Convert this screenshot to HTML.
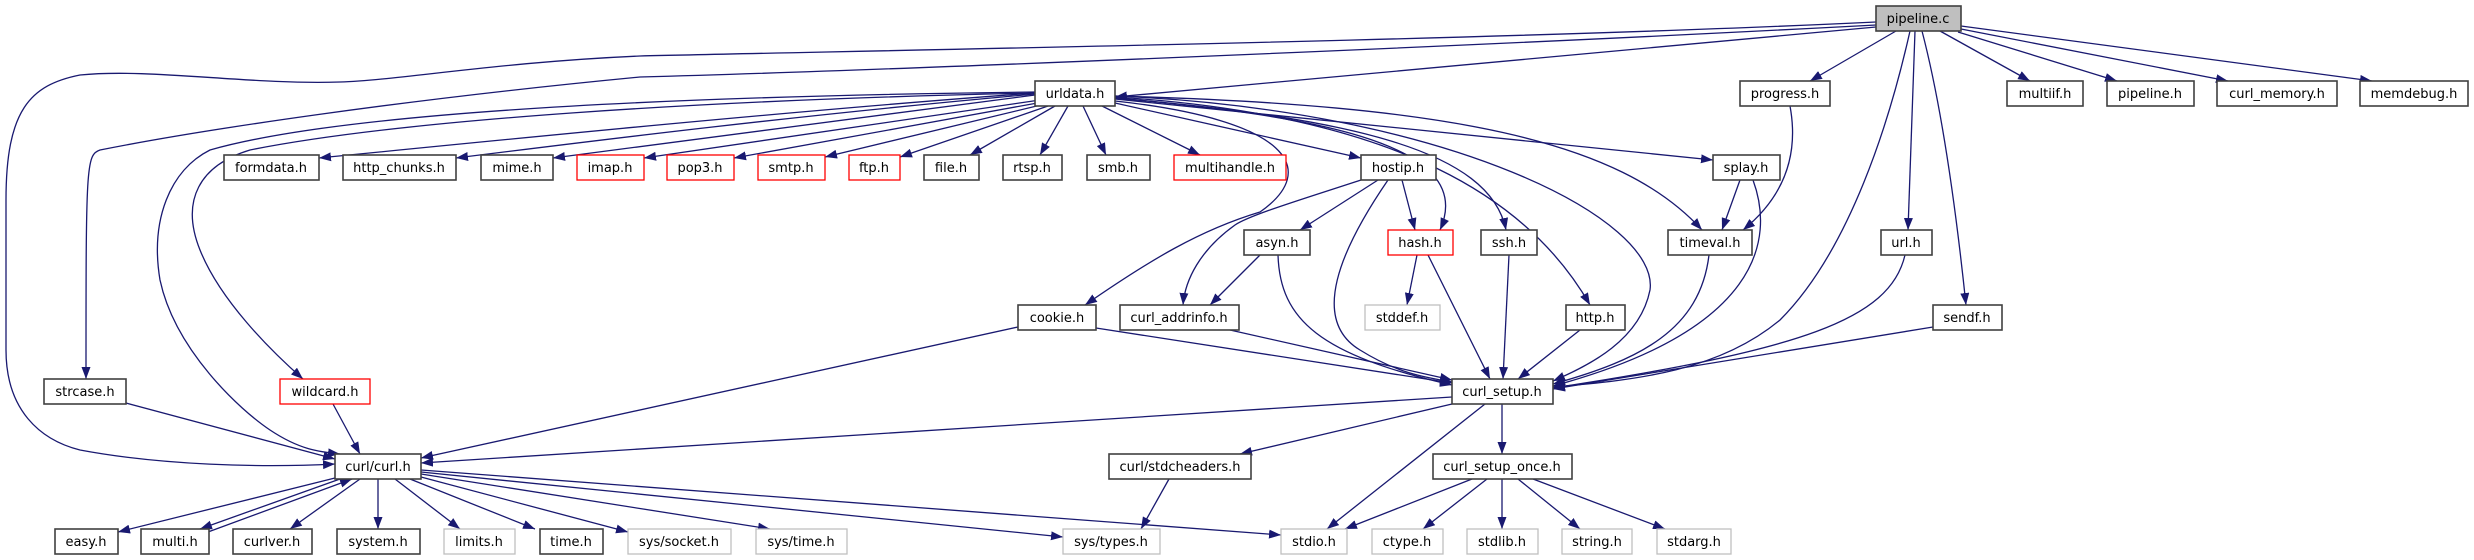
<!DOCTYPE html>
<html><head><meta charset="utf-8"><style>
html,body{margin:0;padding:0;background:#fff;}
svg{display:block}
text{font-family:"DejaVu Sans","Liberation Sans",sans-serif;font-size:13px;fill:#000;text-anchor:middle}
.e{fill:none;stroke:#191970;stroke-width:1.3;marker-end:url(#a)}
.b{fill:#fff;stroke:#404040;stroke-width:1.6}
.r{fill:#fff;stroke:#ff0000;stroke-width:1.3}
.g{fill:#fff;stroke:#bfbfbf;stroke-width:1.3}
</style></head><body>
<svg width="2474" height="560" viewBox="0 0 2474 560" xmlns="http://www.w3.org/2000/svg">
<defs><marker id="a" markerUnits="userSpaceOnUse" markerWidth="12" markerHeight="9" refX="12" refY="4.5" orient="auto"><path d="M0,0 L12,4.5 L0,9 z" fill="#191970"/></marker></defs>
<g>
<path class="e" d="M1876,22 C1500,40 900,50 640,56 C500,62 400,80 340,82 C250,85 150,68 80,75 C30,85 6,110 6,200 L6,350 C6,410 40,440 80,450 C160,465 260,468 335,464"/>
<path class="e" d="M1876,25 C1500,45 900,70 640,77 C400,100 200,130 100,150 C86,155 86,165 86,379"/>
<path class="e" d="M1876,27 L1115,97"/>
<path class="e" d="M1896,31 L1810,81"/>
<path class="e" d="M1940,31 L2030,81"/>
<path class="e" d="M1958,32 L2117,81"/>
<path class="e" d="M1961,29 L2228,81"/>
<path class="e" d="M1961,26 L2372,81"/>
<path class="e" d="M1915,31 L1908,230"/>
<path class="e" d="M1922,31 C1940,100 1955,200 1966,305"/>
<path class="e" d="M1910,31 C1890,120 1850,250 1780,320 C1720,370 1640,380 1553,387"/>
<path class="e" d="M1035,93 C800,110 500,140 319,158"/>
<path class="e" d="M1035,94 C800,115 600,140 456,158"/>
<path class="e" d="M1035,95 L553,158"/>
<path class="e" d="M1040,100 L644,158"/>
<path class="e" d="M1043,102 L734,158"/>
<path class="e" d="M1045,104 L825,157"/>
<path class="e" d="M1048,106 L900,157"/>
<path class="e" d="M1055,106 L970,155"/>
<path class="e" d="M1068,106 L1040,155"/>
<path class="e" d="M1083,106 L1106,155"/>
<path class="e" d="M1102,106 L1200,155"/>
<path class="e" d="M1115,103 L1361,158"/>
<path class="e" d="M1115,98 C1300,115 1480,140 1440,230"/>
<path class="e" d="M1115,98 C1350,118 1490,150 1506,230"/>
<path class="e" d="M1115,97 C1400,115 1530,200 1590,305"/>
<path class="e" d="M1115,96 C1450,110 1660,220 1650,290 C1640,340 1590,365 1553,381"/>
<path class="e" d="M1115,96 C1450,105 1620,140 1702,230"/>
<path class="e" d="M1115,99 L1713,160"/>
<path class="e" d="M1115,101 C1290,120 1320,170 1260,212 C1200,230 1150,260 1085,305"/>
<path class="e" d="M1361,180 C1300,200 1250,215 1235,225 C1200,250 1185,280 1183,305"/>
<path class="e" d="M1035,93 C700,100 400,120 250,150 C200,165 180,200 200,250 C220,300 270,350 303,379"/>
<path class="e" d="M1035,92 C700,96 350,110 210,150 C170,170 150,220 160,280 C175,350 240,410 270,430 C300,450 320,452 340,454"/>
<path class="e" d="M1378,180 L1300,230"/>
<path class="e" d="M1402,180 L1415,230"/>
<path class="e" d="M1388,180 C1340,250 1310,320 1360,350 C1400,375 1430,378 1452,382"/>
<path class="e" d="M1260,255 L1210,305"/>
<path class="e" d="M1278,255 C1280,320 1320,355 1452,385"/>
<path class="e" d="M1417,255 L1407,305"/>
<path class="e" d="M1428,255 L1490,379"/>
<path class="e" d="M1509,255 L1503,379"/>
<path class="e" d="M1580,330 L1518,379"/>
<path class="e" d="M1709,255 C1700,330 1640,360 1553,384"/>
<path class="e" d="M1740,180 L1722,230"/>
<path class="e" d="M1753,180 C1775,240 1760,330 1553,386"/>
<path class="e" d="M1790,106 C1800,160 1780,200 1743,230"/>
<path class="e" d="M1905,255 C1890,320 1800,350 1553,388"/>
<path class="e" d="M1933,327 L1553,389"/>
<path class="e" d="M1018,327 L421,458"/>
<path class="e" d="M1096,328 L1452,383"/>
<path class="e" d="M1230,330 L1452,380"/>
<path class="e" d="M126,403 L335,459"/>
<path class="e" d="M333,404 L360,454"/>
<path class="e" d="M1452,397 L421,463"/>
<path class="e" d="M1452,404 L1240,454"/>
<path class="e" d="M1502,404 L1502,454"/>
<path class="e" d="M1485,404 L1327,529"/>
<path class="e" d="M1169,479 L1141,529"/>
<path class="e" d="M1472,479 L1345,529"/>
<path class="e" d="M1487,479 L1423,529"/>
<path class="e" d="M1502,479 L1502,529"/>
<path class="e" d="M1518,479 L1580,529"/>
<path class="e" d="M1533,479 L1665,529"/>
<path class="e" d="M335,478 L118,532"/>
<path class="e" d="M340,479 L200,529"/>
<path class="e" d="M208,532 L352,479"/>
<path class="e" d="M360,479 L290,529"/>
<path class="e" d="M378,479 L378,529"/>
<path class="e" d="M395,479 L460,529"/>
<path class="e" d="M410,479 L535,529"/>
<path class="e" d="M421,477 L628,532"/>
<path class="e" d="M421,474 L770,529"/>
<path class="e" d="M421,472 L1063,537"/>
<path class="e" d="M421,470 L1281,535"/>
</g>
<g>
<rect x="1876" y="6" width="85" height="25" fill="#bfbfbf" stroke="#404040" stroke-width="1.6"/><text x="1918" y="23">pipeline.c</text>
<rect class="b" x="1035" y="81" width="80" height="25"/><text x="1075" y="98">urldata.h</text>
<rect class="b" x="1740" y="81" width="90" height="25"/><text x="1785" y="98">progress.h</text>
<rect class="b" x="2007" y="81" width="76" height="25"/><text x="2045" y="98">multiif.h</text>
<rect class="b" x="2107" y="81" width="87" height="25"/><text x="2150" y="98">pipeline.h</text>
<rect class="b" x="2217" y="81" width="120" height="25"/><text x="2277" y="98">curl_memory.h</text>
<rect class="b" x="2360" y="81" width="108" height="25"/><text x="2414" y="98">memdebug.h</text>
<rect class="b" x="224" y="155" width="95" height="25"/><text x="271" y="172">formdata.h</text>
<rect class="b" x="343" y="155" width="113" height="25"/><text x="399" y="172">http_chunks.h</text>
<rect class="b" x="481" y="155" width="72" height="25"/><text x="517" y="172">mime.h</text>
<rect class="r" x="577" y="155" width="67" height="25"/><text x="610" y="172">imap.h</text>
<rect class="r" x="667" y="155" width="67" height="25"/><text x="700" y="172">pop3.h</text>
<rect class="r" x="758" y="155" width="67" height="25"/><text x="791" y="172">smtp.h</text>
<rect class="r" x="849" y="155" width="51" height="25"/><text x="874" y="172">ftp.h</text>
<rect class="b" x="924" y="155" width="55" height="25"/><text x="951" y="172">file.h</text>
<rect class="b" x="1003" y="155" width="59" height="25"/><text x="1032" y="172">rtsp.h</text>
<rect class="b" x="1087" y="155" width="63" height="25"/><text x="1118" y="172">smb.h</text>
<rect class="r" x="1174" y="155" width="112" height="25"/><text x="1230" y="172">multihandle.h</text>
<rect class="b" x="1361" y="155" width="75" height="25"/><text x="1398" y="172">hostip.h</text>
<rect class="b" x="1713" y="155" width="67" height="25"/><text x="1746" y="172">splay.h</text>
<rect class="b" x="1244" y="230" width="66" height="25"/><text x="1277" y="247">asyn.h</text>
<rect class="r" x="1388" y="230" width="65" height="25"/><text x="1420" y="247">hash.h</text>
<rect class="b" x="1481" y="230" width="56" height="25"/><text x="1509" y="247">ssh.h</text>
<rect class="b" x="1668" y="230" width="84" height="25"/><text x="1710" y="247">timeval.h</text>
<rect class="b" x="1881" y="230" width="51" height="25"/><text x="1906" y="247">url.h</text>
<rect class="b" x="1018" y="305" width="78" height="25"/><text x="1057" y="322">cookie.h</text>
<rect class="b" x="1120" y="305" width="119" height="25"/><text x="1179" y="322">curl_addrinfo.h</text>
<rect class="g" x="1365" y="305" width="75" height="25"/><text x="1402" y="322">stddef.h</text>
<rect class="b" x="1566" y="305" width="59" height="25"/><text x="1595" y="322">http.h</text>
<rect class="b" x="1933" y="305" width="69" height="25"/><text x="1967" y="322">sendf.h</text>
<rect class="b" x="44" y="379" width="82" height="25"/><text x="85" y="396">strcase.h</text>
<rect class="r" x="280" y="379" width="90" height="25"/><text x="325" y="396">wildcard.h</text>
<rect class="b" x="1452" y="379" width="101" height="25"/><text x="1502" y="396">curl_setup.h</text>
<rect class="b" x="335" y="454" width="86" height="25"/><text x="378" y="471">curl/curl.h</text>
<rect class="b" x="1109" y="454" width="142" height="25"/><text x="1180" y="471">curl/stdcheaders.h</text>
<rect class="b" x="1433" y="454" width="139" height="25"/><text x="1502" y="471">curl_setup_once.h</text>
<rect class="b" x="55" y="529" width="63" height="25"/><text x="86" y="546">easy.h</text>
<rect class="b" x="141" y="529" width="68" height="25"/><text x="175" y="546">multi.h</text>
<rect class="b" x="233" y="529" width="79" height="25"/><text x="272" y="546">curlver.h</text>
<rect class="b" x="337" y="529" width="83" height="25"/><text x="378" y="546">system.h</text>
<rect class="g" x="444" y="529" width="71" height="25"/><text x="479" y="546">limits.h</text>
<rect class="b" x="540" y="529" width="63" height="25"/><text x="571" y="546">time.h</text>
<rect class="g" x="628" y="529" width="103" height="25"/><text x="679" y="546">sys/socket.h</text>
<rect class="g" x="756" y="529" width="91" height="25"/><text x="801" y="546">sys/time.h</text>
<rect class="g" x="1063" y="529" width="97" height="25"/><text x="1111" y="546">sys/types.h</text>
<rect class="g" x="1281" y="529" width="66" height="25"/><text x="1314" y="546">stdio.h</text>
<rect class="g" x="1372" y="529" width="71" height="25"/><text x="1407" y="546">ctype.h</text>
<rect class="g" x="1467" y="529" width="71" height="25"/><text x="1502" y="546">stdlib.h</text>
<rect class="g" x="1562" y="529" width="70" height="25"/><text x="1597" y="546">string.h</text>
<rect class="g" x="1657" y="529" width="74" height="25"/><text x="1694" y="546">stdarg.h</text>
</g>
</svg>
</body></html>
